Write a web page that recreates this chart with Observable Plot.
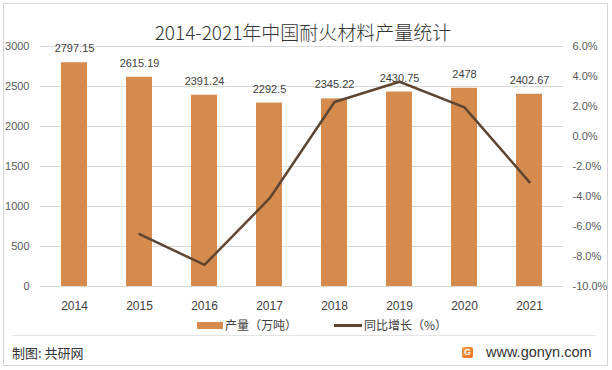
<!DOCTYPE html>
<html><head><meta charset="utf-8">
<script src="https://cdn.jsdelivr.net/npm/d3@7"></script>
<script src="https://cdn.jsdelivr.net/npm/@observablehq/plot@0.6"></script>
<style>
body{margin:0;background:#fff;}
#wrap{position:relative;width:612px;height:370px;overflow:hidden;background:#fff;font-family:"Liberation Sans","Noto Sans CJK SC",sans-serif;}
#frame{position:absolute;left:3px;top:3px;width:603px;height:361px;border:1px solid #d6d6d6;}
.abs{position:absolute;white-space:nowrap;}
#title{left:0;width:606px;top:22px;text-align:center;font-family:"Noto Sans CJK SC",sans-serif;font-size:19px;line-height:19px;color:#333;font-weight:300;}
#chart{position:absolute;left:0;top:0;}
.lg{font-family:"Noto Sans CJK SC",sans-serif;font-size:12px;line-height:12px;color:#404040;}
.ft{font-family:"Noto Sans CJK SC",sans-serif;font-size:13px;line-height:13px;color:#333;}
</style></head><body>
<div id="wrap">
  <div id="frame"></div>
  <div id="chart"></div>
  <div id="title" class="abs">2014-2021年中国耐火材料产量统计</div>
  <div class="abs" style="left:197px;top:322px;width:26px;height:7px;background:#D58B4D"></div>
  <div class="abs lg" style="left:225px;top:319px">产量（万吨）</div>
  <div class="abs" style="left:334px;top:324px;width:28px;height:3px;background:#5E4532"></div>
  <div class="abs lg" style="left:364px;top:319px">同比增长（%）</div>
  <div class="abs" style="left:12px;top:335px;width:584px;height:1px;background:#e4e4e4"></div>
  <div class="abs ft" style="left:12px;top:346px">制图: 共研网</div>
  <div class="abs" style="left:462px;top:347px;width:11px;height:11px;background:linear-gradient(135deg,#f7a23b,#f06a2a);border-radius:2px;color:#fff;font:bold 9px 'Liberation Sans';line-height:11px;text-align:center">G</div>
  <div class="abs" style="left:486px;top:345px;font-family:'Liberation Sans',sans-serif;font-size:14.5px;line-height:15px;color:#333">www.gonyn.com</div>
</div>
<script>
const years = ["2014","2015","2016","2017","2018","2019","2020","2021"];
const output = [2797.15, 2615.19, 2391.24, 2292.5, 2345.22, 2430.75, 2478, 2402.67];
const growth = [null, -6.51, -8.56, -4.13, 2.30, 3.65, 1.94, -3.04];
const leftTicks = [0, 500, 1000, 1500, 2000, 2500, 3000];
const rightTicks = [-10, -8, -6, -4, -2, 0, 2, 4, 6];
const leftMax = 3000, rightMin = -10, rightMax = 6;

const toLeft = p => (p - rightMin) / (rightMax - rightMin) * leftMax;
const fromLeft = v => v / leftMax * (rightMax - rightMin) + rightMin;

const bars = years.map((y, i) => ({year: y, value: output[i]}));
const lineData = years.map((y, i) => ({year: y, pct: growth[i]})).filter(d => d.pct != null);

const chart = Plot.plot({
  width: 612, height: 320,
  marginTop: 46, marginBottom: 34, marginLeft: 40, marginRight: 49,
  x: {type: "band", domain: years, paddingInner: 0.6, paddingOuter: 0.3},
  y: {domain: [0, leftMax]},
  style: {fontFamily: "'Liberation Sans', sans-serif", fontSize: "11px", color: "#595959", background: "transparent", overflow: "visible"},
  marks: [
    Plot.gridY(leftTicks, {stroke: "#d9d9d9", strokeOpacity: 1}),
    Plot.axisY(leftTicks, {anchor: "left", tickSize: 0, tickPadding: 11, label: null, fill: "#595959",
      tickFormat: v => String(v)}),
    Plot.axisY(rightTicks.map(toLeft), {anchor: "right", tickSize: 0, tickPadding: 9, label: null, fill: "#595959",
      tickFormat: v => Math.round(fromLeft(v)).toFixed(1) + "%"}),
    Plot.axisX({tickSize: 0, tickPadding: 15, label: null, fontSize: 12, fill: "#404040"}),
    Plot.barY(bars, {x: "year", y: "value", fill: "#D58B4D"}),
    Plot.text(bars, {x: "year", y: "value", text: d => String(d.value), dy: -14, fill: "#404040", fontSize: 11}),
    Plot.line(lineData, {x: "year", y: d => toLeft(d.pct), stroke: "#5E4532", strokeWidth: 2.5})
  ]
});
document.getElementById("chart").appendChild(chart);
</script>
</body></html>
